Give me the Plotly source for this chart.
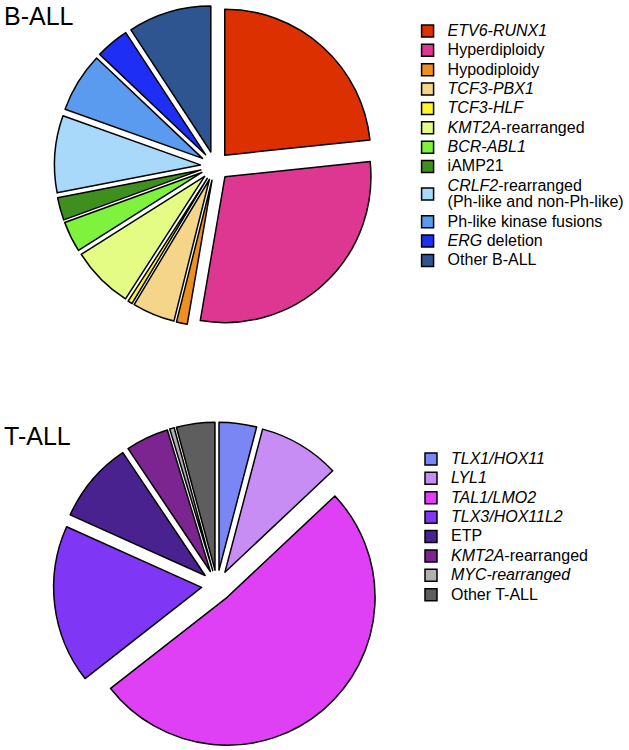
import plotly.graph_objects as go

# ---- data ----
b_labels = [
    "<i>ETV6-RUNX1</i>", "Hyperdiploidy", "Hypodiploidy", "<i>TCF3-PBX1</i>",
    "<i>TCF3-HLF</i>", "<i>KMT2A</i>-rearranged", "<i>BCR-ABL1</i>", "iAMP21",
    "<i>CRLF2</i>-rearranged<br>(Ph-like and non-Ph-like)", "Ph-like kinase fusions",
    "<i>ERG</i> deletion", "Other B-ALL",
]
b_values = [23.3, 29.3, 1.2, 4.7, 0.5, 6.9, 3.4, 2.5, 8.5, 6.6, 3.7, 9.2]
b_colors = ["#DD3000", "#DE3791", "#EE9020", "#F5D58A", "#FFF52A", "#E4FB84",
            "#7EF23C", "#3F8F1E", "#A8D8FA", "#5B9BEF", "#1F2EF5", "#2E5590"]

t_labels = [
    "<i>TLX1/HOX11</i>", "<i>LYL1</i>", "<i>TAL1/LMO2</i>", "<i>TLX3/HOX11L2</i>",
    "ETP", "<i>KMT2A</i>-rearranged", "<i>MYC-rearranged</i>", "Other T-ALL",
]
t_values = [4.1, 8.9, 51.5, 17.3, 8.9, 4.7, 0.5, 4.2]
t_colors = ["#7B86F5", "#C88CF5", "#E040F5", "#8036F5", "#4A2290", "#7C2490",
            "#B0B0B0", "#5E5E5E"]

FONT = "Liberation Sans, Arial, sans-serif"


def big(s):
    return '<span style="font-size:16px">' + s.replace("<br>", '</span><br><span style="font-size:16px">') + "</span>"


fig = go.Figure()
fig.add_trace(go.Pie(
    labels=[big(s) for s in b_labels], values=b_values,
    marker=dict(colors=b_colors, line=dict(color="black", width=1.5)),
    sort=False, direction="clockwise", rotation=0,
    pull=[0.1] * len(b_values), textinfo="none", hoverinfo="skip",
    domain=dict(x=[0.0865, 0.5971], y=[0.5645, 0.9928]),
    legend="legend", legendgroup="b",
))
fig.add_trace(go.Pie(
    labels=[big(s) + "\u200b" for s in t_labels], values=t_values,
    marker=dict(colors=t_colors, line=dict(color="black", width=1.5)),
    sort=False, direction="clockwise", rotation=0,
    pull=[0.105] * len(t_values), textinfo="none", hoverinfo="skip",
    domain=dict(x=[0.0851, 0.6049], y=[0.0013, 0.4373]),
    legend="legend2", legendgroup="t",
))

fig.update_layout(
    width=629, height=750,
    margin=dict(l=0, r=0, t=0, b=0, autoexpand=False),
    paper_bgcolor="white", plot_bgcolor="white",
    font=dict(family=FONT, color="black"),
    legend=dict(x=0.648, y=0.9784, xanchor="left", yanchor="top",
                font=dict(size=12.6, family=FONT, color="black"),
                bgcolor="rgba(0,0,0,0)", traceorder="normal"),
    legend2=dict(x=0.6534, y=0.4076, xanchor="left", yanchor="top",
                 font=dict(size=12.6, family=FONT, color="black"),
                 bgcolor="rgba(0,0,0,0)", traceorder="normal"),
    annotations=[
        dict(text="B-ALL", x=2 / 629, y=0.9782, xref="paper", yref="paper",
             xanchor="left", yanchor="middle", showarrow=False,
             font=dict(size=25, family=FONT, color="black")),
        dict(text="T-ALL", x=2 / 629, y=0.4182, xref="paper", yref="paper",
             xanchor="left", yanchor="middle", showarrow=False,
             font=dict(size=25, family=FONT, color="black")),
    ],
)

fig.write_html("out.html", config={"displayModeBar": False},
               post_script="document.body.style.margin='0px';")
